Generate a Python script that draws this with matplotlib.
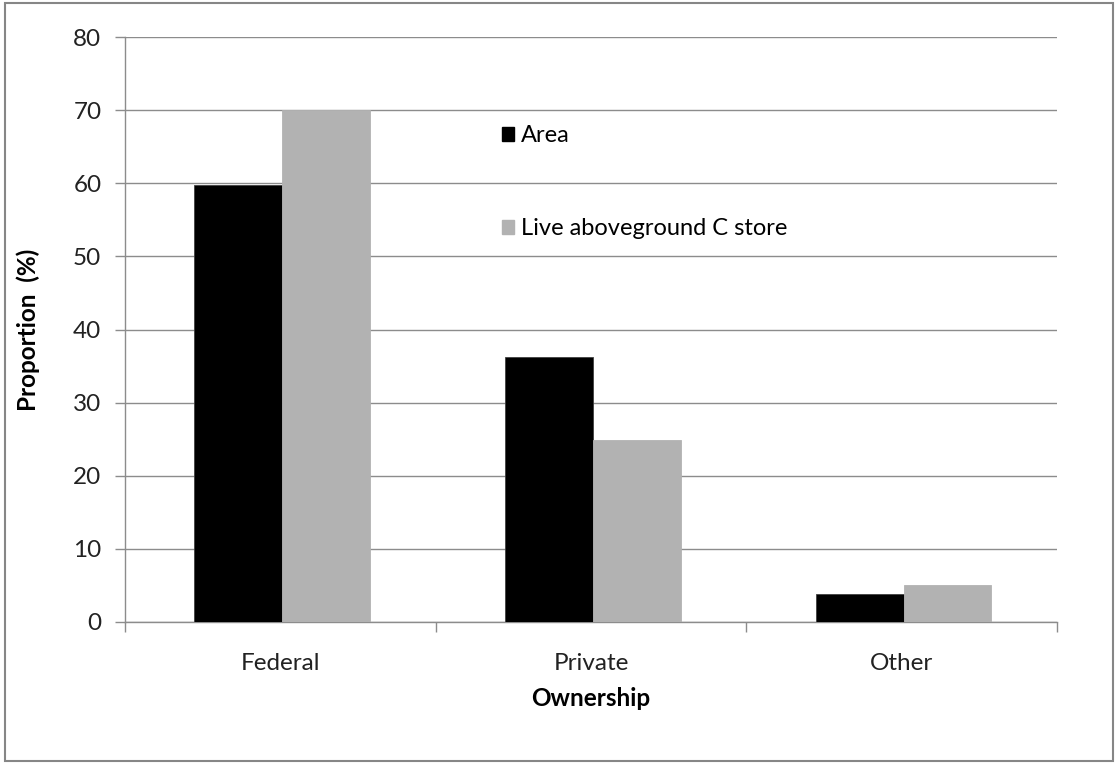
import matplotlib
matplotlib.use("Agg")
import matplotlib.pyplot as plt
from matplotlib.patches import Rectangle, Patch
import numpy as np

categories = ["Federal", "Private", "Other"]
area = [59.8, 36.2, 3.8]
live_c = [70.0, 24.9, 5.0]
series_names = ["Area", "Live aboveground C store"]
yticks = [0, 10, 20, 30, 40, 50, 60, 70, 80]

plt.rcParams['font.family'] = ['Lato', 'DejaVu Sans']

fig = plt.figure(figsize=(11.2, 7.63), dpi=100)
ax = fig.add_axes([125/1120, 1-622/763, (1057-125)/1120, (622-37)/763])

x = np.arange(len(categories))
w = 0.283
ax.bar(x - w/2 + 0.006, area, width=w, color='black', edgecolor='#404040', linewidth=0.6, zorder=3)
ax.bar(x + w/2 + 0.006, live_c, width=w, color='#b2b2b2', edgecolor='#b2b2b2', linewidth=0.6, zorder=3)

ax.set_xlim(-0.5, 2.5)
ax.set_ylim(0, 80)
ax.set_yticks(yticks)
ax.set_yticklabels([str(t) for t in yticks], fontsize=17.5, color='#222222')
ax.yaxis.grid(True, color='#8c8c8c', linewidth=1.0, zorder=0)
ax.set_axisbelow(True)

ax.set_xticks(x)
ax.set_xticklabels(categories, fontsize=17.5, color='#222222')
ax.set_xticks([-0.5, 0.5, 1.5, 2.5], minor=True)
ax.tick_params(axis='x', which='major', length=0, pad=22)
ax.tick_params(axis='x', which='minor', length=7, color='#8c8c8c', width=1.0)
ax.tick_params(axis='y', length=7, color='#8c8c8c', width=1.0, pad=10)

for s in ['top', 'right']:
    ax.spines[s].set_visible(False)
for s in ['left', 'bottom']:
    ax.spines[s].set_color('#8c8c8c')
    ax.spines[s].set_linewidth(1.0)

ax.set_ylabel("Proportion  (%)", fontsize=17.5, fontweight='bold', va='center')
ax.set_xlabel("Ownership", fontsize=17.5, fontweight='bold', va='center')
ax.yaxis.set_label_coords((28-125)/932, 0.5)
ax.xaxis.set_label_coords(0.5, (622-698)/585)

handles = [Patch(facecolor='black', edgecolor='black'), Patch(facecolor='#b2b2b2', edgecolor='#b2b2b2')]
leg = ax.legend(handles, series_names, loc='upper left', bbox_to_anchor=((493-125)/932, (622-116)/585),
                frameon=False, fontsize=17, handlelength=0.5, handleheight=0.5,
                handletextpad=0.3, labelspacing=3.05, borderaxespad=0)

fig.patches.append(Rectangle((5/1120, 2/763), 1108/1120, 758/763, transform=fig.transFigure,
                             fill=False, edgecolor='#868686', linewidth=1.5))

fig.savefig("out.png", dpi=100, facecolor='white')
